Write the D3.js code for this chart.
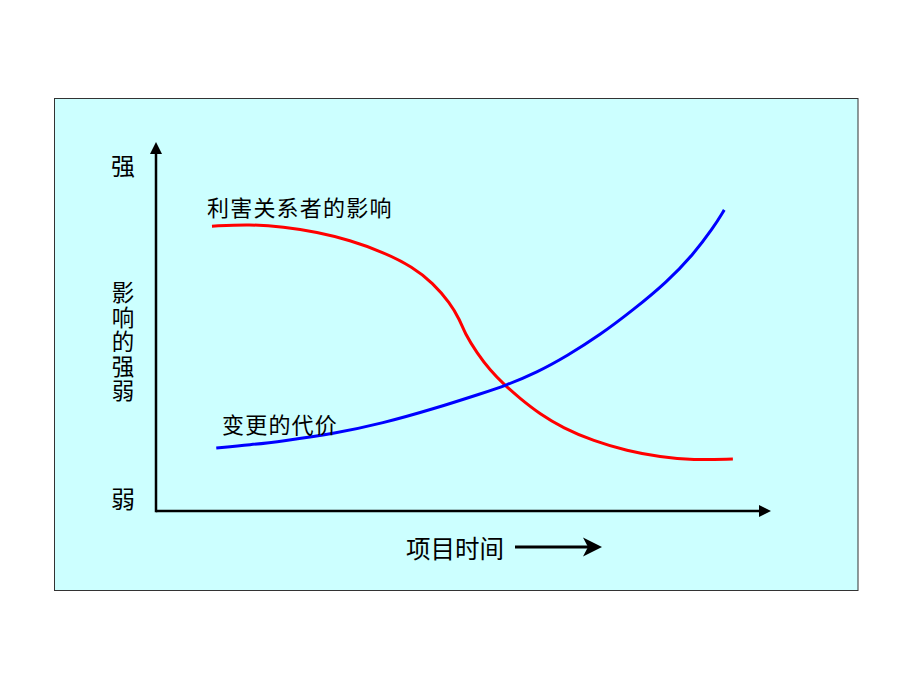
<!DOCTYPE html>
<html>
<head>
<meta charset="utf-8">
<script src="https://cdn.jsdelivr.net/npm/d3@7"></script>
<style>
  html, body { margin: 0; padding: 0; background: #ffffff; }
  svg { display: block; }
  text { font-family: "Noto Sans CJK SC", "Noto Sans", sans-serif; fill: #000; }
</style>
</head>
<body>
<svg id="chart" width="920" height="690"></svg>
<script>
// ---- data (time 0-100, influence 0-100) ----
const stakeholderTime = [9.1, 15.3, 20.7, 26.2, 31.5, 36.9, 41.8, 45.0, 47.8, 49.4, 50.2, 52.2, 54.3, 56.7, 59.2, 62.4, 66.2, 71.1, 76.6, 82.0, 87.3, 93.8];
const stakeholderValue = [77.2, 77.7, 77.0, 75.6, 73.4, 70.2, 66.1, 61.8, 56.4, 51.8, 48.2, 42.8, 38.2, 34.1, 30.5, 26.3, 22.5, 19.0, 16.3, 14.6, 13.8, 14.1];
const costTime = [9.8, 15.3, 20.7, 28.8, 36.9, 45.0, 53.2, 56.7, 62.0, 66.8, 72.2, 77.6, 83.1, 87.3, 90.6, 92.4];
const costValue = [17.1, 17.9, 19.0, 20.9, 23.8, 27.6, 32.0, 33.9, 37.6, 42.0, 47.7, 54.5, 62.1, 69.4, 76.7, 81.6];
const seriesNames = ["利害关系者的影响", "变更的代价"];
const yTopLabel = "强";
const yBottomLabel = "弱";
const yAxisTitle = "影响的强弱";
const xAxisTitle = "项目时间";

const svg = d3.select("#chart");

// panel
svg.append("rect")
  .attr("x", 54.5).attr("y", 98.5).attr("width", 803.5).attr("height", 492)
  .attr("fill", "#CCFFFF").attr("stroke", "#333333").attr("stroke-width", 1);

const x = d3.scaleLinear().domain([0, 100]).range([156, 771]);
const y = d3.scaleLinear().domain([0, 100]).range([511, 142]);

// axes
const axisG = svg.append("g");
axisG.append("line")
  .attr("x1", x(0)).attr("y1", y(0)).attr("x2", x(100) - 10).attr("y2", y(0))
  .attr("stroke", "#000").attr("stroke-width", 2.5);
axisG.append("line")
  .attr("x1", x(0)).attr("y1", y(0) + 1.2).attr("x2", x(0)).attr("y2", y(100) + 10)
  .attr("stroke", "#000").attr("stroke-width", 2.5);
// arrowheads
axisG.append("path")
  .attr("d", `M${x(100)},${y(0)} L${x(100) - 12},${y(0) - 6} L${x(100) - 12},${y(0) + 6} Z`)
  .attr("fill", "#000");
axisG.append("path")
  .attr("d", `M${x(0)},${y(100)} L${x(0) - 6},${y(100) + 12} L${x(0) + 6},${y(100) + 12} Z`)
  .attr("fill", "#000");

// curves
const line = d3.line().x(d => x(d[0])).y(d => y(d[1])).curve(d3.curveBasis);
const red = stakeholderTime.map((t, i) => [t, stakeholderValue[i]]);
const blue = costTime.map((t, i) => [t, costValue[i]]);

svg.append("path").datum(red).attr("d", line)
  .attr("fill", "none").attr("stroke", "#FF0000").attr("stroke-width", 3).attr("stroke-linecap", "butt");
svg.append("path").datum(blue).attr("d", line)
  .attr("fill", "none").attr("stroke", "#0000FF").attr("stroke-width", 3).attr("stroke-linecap", "butt");

// curve labels
svg.append("text").attr("x", 207).attr("y", 206).attr("dominant-baseline", "central")
  .attr("font-size", 22).attr("letter-spacing", 1.2).text(seriesNames[0]);
svg.append("text").attr("x", 222).attr("y", 423).attr("dominant-baseline", "central")
  .attr("font-size", 22).attr("letter-spacing", 1.2).text(seriesNames[1]);

// y labels
svg.append("text").attr("x", 123).attr("y", 164).attr("text-anchor", "middle")
  .attr("dominant-baseline", "central").attr("font-size", 24).text(yTopLabel);
svg.append("text").attr("x", 123).attr("y", 497).attr("text-anchor", "middle")
  .attr("dominant-baseline", "central").attr("font-size", 24).text(yBottomLabel);
const chars = Array.from(yAxisTitle);
svg.append("g").selectAll("text").data(chars).join("text")
  .attr("x", 123).attr("y", (d, i) => 291 + i * 24.5)
  .attr("text-anchor", "middle").attr("dominant-baseline", "central")
  .attr("font-size", 22.5).text(d => d);

// x label with arrow
svg.append("text").attr("x", 406).attr("y", 547.5).attr("dominant-baseline", "central")
  .attr("font-size", 24.5).text(xAxisTitle);
svg.append("line").attr("x1", 515).attr("y1", 547).attr("x2", 590).attr("y2", 547)
  .attr("stroke", "#000").attr("stroke-width", 3);
svg.append("path").attr("d", "M602,547 L583,537.5 L588,547 L583,556.5 Z").attr("fill", "#000");
</script>
</body>
</html>
